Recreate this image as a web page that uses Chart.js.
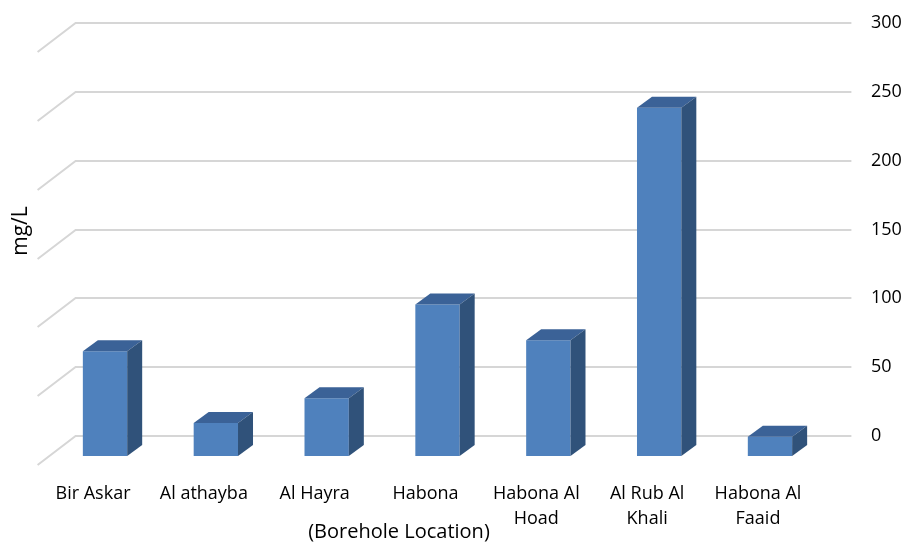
<!DOCTYPE html>
<html>
<head>
<meta charset="utf-8">
<script src="https://cdn.jsdelivr.net/npm/chart.js@4.4.0/dist/chart.umd.min.js"></script>
<style>
  html, body { margin: 0; padding: 0; background: #fff; }
  #wrap { width: 906px; height: 543px; }
</style>
</head>
<body>
<div id="wrap"><canvas id="chart"></canvas></div>
<script>
const categories = ['Bir Askar', 'Al athayba', 'Al Hayra', 'Habona', ['Habona Al', 'Hoad'], ['Al Rub Al', 'Khali'], ['Habona Al', 'Faaid']];
const values = [76, 24, 42, 110, 84, 253, 14];
const yTicks = [0, 50, 100, 150, 200, 250, 300];
const yTitle = 'mg/L';
const xTitle = '(Borehole Location)';

const FONT = "'Open Sans', sans-serif";
// 3d look: bar depth, back wall offset, floor depth
const depthX = 15, depthY = 11;
const wallX = 26;
const floorX = 38, floorY = 29;

const depthPlugin = {
    id: 'depth',
    beforeDatasetsDraw(chart) {
        const ctx = chart.ctx;
        const area = chart.chartArea;
        const s = chart.scales.y2;
        ctx.save();
        ctx.strokeStyle = '#D6D6D6';
        ctx.lineWidth = 2;
        yTicks.forEach(v => {
            const y = Math.round(s.getPixelForValue(v));
            const x0 = area.left + wallX;
            ctx.beginPath();
            ctx.moveTo(x0 - floorX, y + floorY);
            ctx.lineTo(x0, y);
            ctx.lineTo(area.right + wallX, y);
            ctx.stroke();
        });
        ctx.restore();
    },
    afterDatasetsDraw(chart) {
        const ctx = chart.ctx;
        ctx.save();
        chart.getDatasetMeta(0).data.forEach(bar => {
            const l = bar.x - bar.width / 2, r = bar.x + bar.width / 2;
            const t = bar.y, b = bar.base;
            // top face
            ctx.fillStyle = '#3B6297';
            ctx.beginPath();
            ctx.moveTo(l, t);
            ctx.lineTo(l + depthX, t - depthY);
            ctx.lineTo(r + depthX, t - depthY);
            ctx.lineTo(r, t);
            ctx.closePath();
            ctx.fill();
            // side face
            ctx.fillStyle = '#30527A';
            ctx.beginPath();
            ctx.moveTo(r, t);
            ctx.lineTo(r + depthX, t - depthY);
            ctx.lineTo(r + depthX, b - depthY);
            ctx.lineTo(r, b);
            ctx.closePath();
            ctx.fill();
        });
        ctx.restore();
    },
    afterDraw(chart) {
        const ctx = chart.ctx;
        ctx.save();
        ctx.fillStyle = '#000';
        ctx.font = '20px ' + FONT;
        ctx.textAlign = 'center';
        ctx.textBaseline = 'middle';
        ctx.fillText(xTitle, 399, 532);
        ctx.translate(21, 231);
        ctx.rotate(-Math.PI / 2);
        ctx.font = '21px ' + FONT;
        ctx.fillText(yTitle, 0, 0);
        ctx.restore();
    }
};

const ctx = document.getElementById('chart').getContext('2d');
const myChart = new Chart(ctx, {
    type: 'bar',
    data: {
        labels: categories,
        datasets: [{
            data: values,
            yAxisID: 'y',
            backgroundColor: '#4F81BD',
            categoryPercentage: 1,
            barPercentage: 0.4
        }]
    },
    options: {
        responsive: true,
        maintainAspectRatio: false,
        animation: false,
        layout: {
            padding: { left: 49.6, top: 23, right: 0, bottom: 0 }
        },
        plugins: {
            legend: { display: false },
            tooltip: { enabled: false }
        },
        scales: {
            x: {
                grid: { display: false },
                border: { display: false },
                ticks: {
                    font: { family: FONT, size: 18, lineHeight: 1.39 },
                    color: '#000',
                    padding: 17,
                    labelOffset: -12,
                    maxRotation: 0,
                    autoSkip: false
                },
                afterFit: s => { s.height = 87; }
            },
            y: {
                display: false,
                min: 0,
                max: 314.5
            },
            y2: {
                position: 'right',
                min: -14.5,
                max: 300,
                grid: { display: false, drawTicks: false },
                border: { display: false },
                ticks: {
                    font: { family: FONT, size: 18 },
                    color: '#000',
                    padding: 45.5
                },
                afterBuildTicks: s => { s.ticks = yTicks.map(v => ({ value: v })); },
                afterFit: s => {
                    s.width = 80.6;
                    s.paddingTop = 0;
                    s.paddingBottom = 0;
                }
            }
        }
    },
    plugins: [depthPlugin]
});
</script>
</body>
</html>
